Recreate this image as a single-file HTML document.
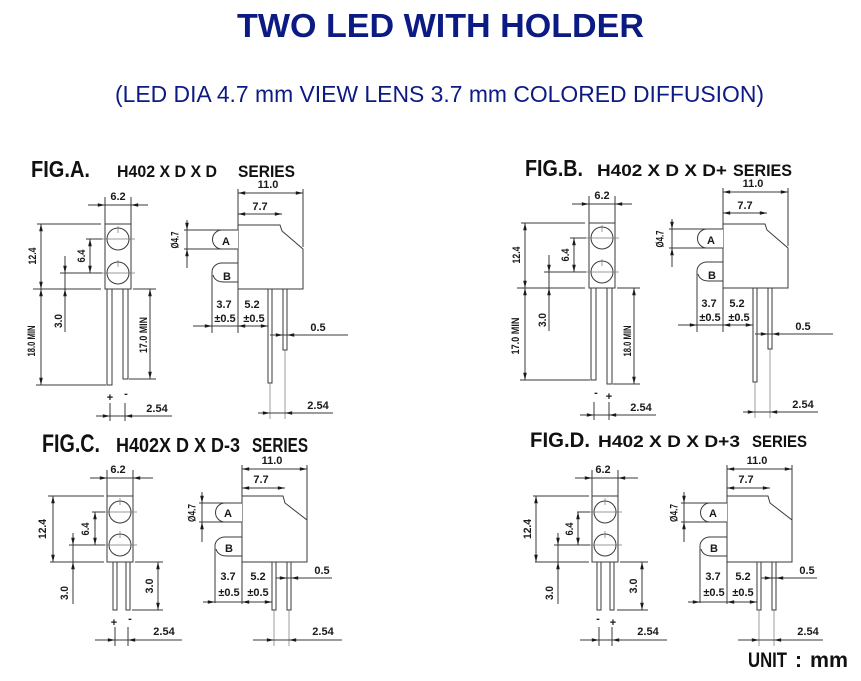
<!DOCTYPE html>
<html>
<head>
<meta charset="utf-8">
<style>
html,body{margin:0;padding:0;background:#fff;}
svg{display:block;}
.l{stroke:#3a3a3a;stroke-width:1;fill:none;}
.c{stroke:#777;stroke-width:0.7;fill:none;}
.s{stroke:#3a3a3a;stroke-width:1;fill:#fff;}
.a{marker-end:url(#m);}
.b{marker-start:url(#m);marker-end:url(#m);}
.t{font-size:11px;font-weight:bold;fill:#1a1a1a;text-anchor:middle;}
.h{font-weight:bold;fill:#111;}
</style>
</head>
<body>
<svg width="861" height="681" viewBox="0 0 861 681" font-family="'Liberation Sans', Arial, sans-serif">
<defs>
<marker id="m" viewBox="0 0 8 4" refX="8" refY="2" markerWidth="8" markerHeight="3.6" markerUnits="userSpaceOnUse" orient="auto-start-reverse"><path d="M0,0L8,2L0,4z" fill="#1a1a1a"/></marker>
</defs>

<!-- Titles -->
<text x="237" y="37" font-size="33" font-weight="bold" fill="#0c1a84" textLength="407" lengthAdjust="spacingAndGlyphs">TWO LED WITH HOLDER</text>
<text x="115" y="102" font-size="23" fill="#0c1a84" textLength="649" lengthAdjust="spacingAndGlyphs">(LED DIA 4.7 mm VIEW LENS 3.7 mm COLORED DIFFUSION)</text>

<!-- Headings -->
<text class="h" x="31" y="177" font-size="23" textLength="59" lengthAdjust="spacingAndGlyphs">FIG.A.</text>
<text class="h" x="117" y="177" font-size="17" textLength="100" lengthAdjust="spacingAndGlyphs">H402 X D X D</text>
<text class="h" x="238" y="177" font-size="17" textLength="57" lengthAdjust="spacingAndGlyphs">SERIES</text>

<text class="h" x="525" y="176" font-size="23" textLength="58" lengthAdjust="spacingAndGlyphs">FIG.B.</text>
<text class="h" x="597" y="176" font-size="17" textLength="130" lengthAdjust="spacingAndGlyphs">H402 X D X D+</text>
<text class="h" x="733" y="176" font-size="17" textLength="59" lengthAdjust="spacingAndGlyphs">SERIES</text>

<text class="h" x="42" y="452" font-size="25" textLength="58" lengthAdjust="spacingAndGlyphs">FIG.C.</text>
<text class="h" x="116" y="452" font-size="20" textLength="124" lengthAdjust="spacingAndGlyphs">H402X D X D-3</text>
<text class="h" x="252" y="452" font-size="20" textLength="56" lengthAdjust="spacingAndGlyphs">SERIES</text>

<text class="h" x="530" y="447" font-size="21" textLength="60" lengthAdjust="spacingAndGlyphs">FIG.D.</text>
<text class="h" x="598" y="447" font-size="17" textLength="142" lengthAdjust="spacingAndGlyphs">H402 X D X D+3</text>
<text class="h" x="752" y="447" font-size="17" textLength="55" lengthAdjust="spacingAndGlyphs">SERIES</text>

<text class="h" x="748" y="667" font-size="21" textLength="39" lengthAdjust="spacingAndGlyphs">UNIT</text>
<text class="h" x="795" y="667" font-size="21">:</text>
<text class="h" x="810" y="667" font-size="21" textLength="38" lengthAdjust="spacingAndGlyphs">mm</text>

<!-- ================= FIG A FRONT ================= -->
<g>
 <path class="l" d="M105,197V224M131,197V224M88,205H148"/>
 <path class="l a" d="M93,205H105"/><path class="l a" d="M143,205H131"/>
 <text class="t" x="118" y="200">6.2</text>
 <rect class="s" x="105" y="224" width="26" height="65"/>
 <circle class="s" cx="118" cy="239" r="11"/><circle class="s" cx="118" cy="273" r="11"/>
 <path class="c" d="M101,239H135M101,273H135M118,226V233M118,260V267"/>
 <rect class="s" x="107" y="289" width="5" height="96"/>
 <rect class="s" x="123" y="289" width="5" height="90"/>
 <path class="l" d="M37,224H101M33,289H101M36,385H106M86,239H102M60,273H102M65,256V332M133,289H156M129,379H156"/>
 <path class="l b" d="M41,224V289"/>
 <path class="l b" d="M41,289V385"/>
 <path class="l b" d="M90,239V273"/>
 <path class="l a" d="M65,260V273"/><path class="l a" d="M65,302V289"/>
 <path class="l b" d="M150,289V379"/>
 <text class="t" transform="translate(32,256) rotate(-90)" dy="4" textLength="17" lengthAdjust="spacingAndGlyphs">12.4</text>
 <text class="t" transform="translate(81,256) rotate(-90)" dy="4" textLength="13" lengthAdjust="spacingAndGlyphs">6.4</text>
 <text class="t" transform="translate(58,321) rotate(-90)" dy="4" textLength="14" lengthAdjust="spacingAndGlyphs">3.0</text>
 <text class="t" transform="translate(31,341) rotate(-90)" dy="4" textLength="31" lengthAdjust="spacingAndGlyphs">18.0 MIN</text>
 <text class="t" transform="translate(143,335) rotate(-90)" dy="4" textLength="36" lengthAdjust="spacingAndGlyphs">17.0 MIN</text>
 <text class="t" x="110" y="401" font-size="14">+</text>
 <text class="t" x="126" y="397" font-size="12">-</text>
 <path class="l" d="M110,403V421M125,403V421M96,416H172"/>
 <path class="l a" d="M98,416H110"/><path class="l a" d="M137,416H125"/>
 <text class="t" x="157" y="412">2.54</text>
</g>

<!-- ================= FIG A SIDE ================= -->
<g>
 <path class="l" d="M238,189V225M303,189V247"/>
 <path class="l b" d="M238,193H303"/>
 <text class="t" x="268" y="188">11.0</text>
 <path class="l b" d="M238,214H282"/>
 <text class="t" x="260" y="210">7.7</text>
 <path class="s" d="M238,225H280L282,231L303,249V289H238Z"/>
 <path class="l" d="M184,230H238M184,249H238"/>
 <path class="s" d="M238,230H222A9.5,9.5 0 0 0 222,249H238"/>
 <path class="l" d="M187,220V268"/>
 <path class="l a" d="M187,221V230"/><path class="l a" d="M187,259V249"/>
 <text class="t" transform="translate(175,240) rotate(-90)" dy="3.5" font-size="10" textLength="17" lengthAdjust="spacingAndGlyphs">Ø4.7</text>
 <text class="t" x="226" y="245" font-size="13">A</text>
 <path class="l" d="M238,263H222A10,9 0 0 0 212,272V333M213,275Q215,282 224,282H238"/>
 <text class="t" x="227" y="280" font-size="13">B</text>
 <path class="l" d="M238,289V333"/>
 <text class="t" x="224" y="308">3.7</text>
 <text class="t" x="225" y="322">±0.5</text>
 <text class="t" x="252" y="308">5.2</text>
 <text class="t" x="254" y="322">±0.5</text>
 <path class="l" d="M193,326H270"/>
 <path class="l a" d="M197,326H212"/>
 <path class="l b" d="M238,326H268"/>
 <rect class="s" x="268" y="289" width="4" height="94"/>
 <rect class="s" x="283" y="289" width="4" height="61"/>
 <path class="c" d="M270,383V419M285,350V419"/>
 <path class="l" d="M270,335H348"/>
 <path class="l a" d="M274,335H283"/><path class="l a" d="M297,335H287"/>
 <text class="t" x="318" y="331">0.5</text>
 <path class="l" d="M258,413H333"/>
 <path class="l a" d="M259,413H270"/><path class="l a" d="M297,413H285"/>
 <text class="t" x="318" y="409">2.54</text>
</g>

<!-- ================= FIG B FRONT ================= -->
<g transform="translate(484,-1)">
 <path class="l" d="M105,197V224M131,197V224M88,205H148"/>
 <path class="l a" d="M93,205H105"/><path class="l a" d="M143,205H131"/>
 <text class="t" x="118" y="200">6.2</text>
 <rect class="s" x="105" y="224" width="26" height="65"/>
 <circle class="s" cx="118" cy="239" r="11"/><circle class="s" cx="118" cy="273" r="11"/>
 <path class="c" d="M101,239H135M101,273H135M118,226V233M118,260V267"/>
 <rect class="s" x="107" y="289" width="5" height="92"/>
 <rect class="s" x="123" y="289" width="5" height="96"/>
 <path class="l" d="M37,224H101M33,289H101M36,381H106M86,239H102M60,273H102M65,256V332M133,289H156M129,385H156"/>
 <path class="l b" d="M41,224V289"/>
 <path class="l b" d="M41,289V381"/>
 <path class="l b" d="M90,239V273"/>
 <path class="l a" d="M65,260V273"/><path class="l a" d="M65,302V289"/>
 <path class="l b" d="M150,289V385"/>
 <text class="t" transform="translate(32,256) rotate(-90)" dy="4" textLength="17" lengthAdjust="spacingAndGlyphs">12.4</text>
 <text class="t" transform="translate(81,256) rotate(-90)" dy="4" textLength="13" lengthAdjust="spacingAndGlyphs">6.4</text>
 <text class="t" transform="translate(58,321) rotate(-90)" dy="4" textLength="14" lengthAdjust="spacingAndGlyphs">3.0</text>
 <text class="t" transform="translate(31,337) rotate(-90)" dy="4" textLength="37" lengthAdjust="spacingAndGlyphs">17.0 MIN</text>
 <text class="t" transform="translate(143,342) rotate(-90)" dy="4" textLength="31" lengthAdjust="spacingAndGlyphs">18.0 MIN</text>
 <text class="t" x="112" y="397" font-size="12">-</text>
 <text class="t" x="125" y="401" font-size="14">+</text>
 <path class="l" d="M110,403V421M125,403V421M96,416H172"/>
 <path class="l a" d="M98,416H110"/><path class="l a" d="M137,416H125"/>
 <text class="t" x="157" y="412">2.54</text>
</g>

<!-- ================= FIG B SIDE ================= -->
<g transform="translate(485,-1)">
 <path class="l" d="M238,189V225M303,189V247"/>
 <path class="l b" d="M238,193H303"/>
 <text class="t" x="268" y="188">11.0</text>
 <path class="l b" d="M238,214H282"/>
 <text class="t" x="260" y="210">7.7</text>
 <path class="s" d="M238,225H280L282,231L303,249V289H238Z"/>
 <path class="l" d="M184,230H238M184,249H238"/>
 <path class="s" d="M238,230H222A9.5,9.5 0 0 0 222,249H238"/>
 <path class="l" d="M187,220V268"/>
 <path class="l a" d="M187,221V230"/><path class="l a" d="M187,259V249"/>
 <text class="t" transform="translate(175,240) rotate(-90)" dy="3.5" font-size="10" textLength="17" lengthAdjust="spacingAndGlyphs">Ø4.7</text>
 <text class="t" x="226" y="245" font-size="13">A</text>
 <path class="l" d="M238,263H222A10,9 0 0 0 212,272V333M213,275Q215,282 224,282H238"/>
 <text class="t" x="227" y="280" font-size="13">B</text>
 <path class="l" d="M238,289V333"/>
 <text class="t" x="224" y="308">3.7</text>
 <text class="t" x="225" y="322">±0.5</text>
 <text class="t" x="252" y="308">5.2</text>
 <text class="t" x="254" y="322">±0.5</text>
 <path class="l" d="M193,326H270"/>
 <path class="l a" d="M197,326H212"/>
 <path class="l b" d="M238,326H268"/>
 <rect class="s" x="268" y="289" width="4" height="94"/>
 <rect class="s" x="283" y="289" width="4" height="61"/>
 <path class="c" d="M270,383V419M285,350V419"/>
 <path class="l" d="M270,335H348"/>
 <path class="l a" d="M274,335H283"/><path class="l a" d="M297,335H287"/>
 <text class="t" x="318" y="331">0.5</text>
 <path class="l" d="M258,413H333"/>
 <path class="l a" d="M259,413H270"/><path class="l a" d="M297,413H285"/>
 <text class="t" x="318" y="409">2.54</text>
</g>

<!-- ================= FIG C FRONT ================= -->
<g>
 <path class="l" d="M107,470V496M133,470V496M90,478H153"/>
 <path class="l a" d="M95,478H107"/><path class="l a" d="M146,478H133"/>
 <text class="t" x="118" y="473">6.2</text>
 <rect class="s" x="107" y="496" width="26" height="66"/>
 <circle class="s" cx="120" cy="512" r="11"/><circle class="s" cx="120" cy="545" r="11"/>
 <path class="c" d="M103,512H137M103,545H137M120,498V505M120,531V538"/>
 <rect class="s" x="113" y="562" width="4" height="48"/>
 <rect class="s" x="126" y="562" width="4" height="48"/>
 <path class="l" d="M48,496H104M50,562H104M92,512H105M69,545H105M73,533V604M135,562H163M132,610H163"/>
 <path class="l b" d="M53,496V562"/>
 <path class="l b" d="M95,512V545"/>
 <path class="l a" d="M73,535V545"/><path class="l a" d="M73,575V562"/>
 <path class="l b" d="M158,562V610"/>
 <text class="t" transform="translate(42,529) rotate(-90)" dy="4" textLength="20" lengthAdjust="spacingAndGlyphs">12.4</text>
 <text class="t" transform="translate(85,529) rotate(-90)" dy="4" textLength="13" lengthAdjust="spacingAndGlyphs">6.4</text>
 <text class="t" transform="translate(64,593) rotate(-90)" dy="4" textLength="14" lengthAdjust="spacingAndGlyphs">3.0</text>
 <text class="t" transform="translate(149,586) rotate(-90)" dy="4" textLength="15" lengthAdjust="spacingAndGlyphs">3.0</text>
 <text class="t" x="114" y="626" font-size="14">+</text>
 <text class="t" x="130" y="622" font-size="12">-</text>
 <path class="l" d="M115,627V646M128,627V646M95,640H182"/>
 <path class="l a" d="M101,640H115"/><path class="l a" d="M142,640H128"/>
 <text class="t" x="164" y="635">2.54</text>
</g>

<!-- ================= FIG C SIDE ================= -->
<g>
 <path class="l" d="M242,465V496M307,465V520"/>
 <path class="l b" d="M242,469H307"/>
 <text class="t" x="272" y="464">11.0</text>
 <path class="l b" d="M242,488H285"/>
 <text class="t" x="261" y="483">7.7</text>
 <path class="s" d="M242,496H283L285,503L307,520V562H242Z"/>
 <path class="l" d="M199,503H242M199,522H242"/>
 <path class="s" d="M242,503H225A9.5,9.5 0 0 0 225,522H242"/>
 <path class="l" d="M202,492V542"/>
 <path class="l a" d="M202,493V503"/><path class="l a" d="M202,532V522"/>
 <text class="t" transform="translate(192,513) rotate(-90)" dy="3.5" font-size="10" textLength="18" lengthAdjust="spacingAndGlyphs">Ø4.7</text>
 <text class="t" x="228" y="517" font-size="13">A</text>
 <path class="l" d="M242,537H225A10,9 0 0 0 215,546V603M216,549Q218,556 227,556H242"/>
 <text class="t" x="229" y="552" font-size="13">B</text>
 <path class="l" d="M242,562V604"/>
 <text class="t" x="228" y="580">3.7</text>
 <text class="t" x="229" y="596">±0.5</text>
 <text class="t" x="258" y="580">5.2</text>
 <text class="t" x="258" y="596">±0.5</text>
 <path class="l" d="M203,602H276"/>
 <path class="l a" d="M204,602H215"/>
 <path class="l b" d="M242,602H272"/>
 <rect class="s" x="272" y="562" width="4" height="48"/>
 <rect class="s" x="287" y="562" width="4" height="48"/>
 <path class="c" d="M274,610V646M289,610V646"/>
 <path class="l" d="M276,578H332"/>
 <path class="l a" d="M278,578H287"/><path class="l a" d="M301,578H291"/>
 <text class="t" x="322" y="574">0.5</text>
 <path class="l" d="M253,640H342"/>
 <path class="l a" d="M260,640H274"/><path class="l a" d="M303,640H289"/>
 <text class="t" x="323" y="635">2.54</text>
</g>

<!-- ================= FIG D FRONT ================= -->
<g transform="translate(485,0)">
 <path class="l" d="M107,470V496M133,470V496M90,478H153"/>
 <path class="l a" d="M95,478H107"/><path class="l a" d="M146,478H133"/>
 <text class="t" x="118" y="473">6.2</text>
 <rect class="s" x="107" y="496" width="26" height="66"/>
 <circle class="s" cx="120" cy="512" r="11"/><circle class="s" cx="120" cy="545" r="11"/>
 <path class="c" d="M103,512H137M103,545H137M120,498V505M120,531V538"/>
 <rect class="s" x="112" y="562" width="4" height="48"/>
 <rect class="s" x="125" y="562" width="4" height="48"/>
 <path class="l" d="M48,496H104M50,562H104M92,512H105M69,545H105M73,533V604M135,562H163M132,610H163"/>
 <path class="l b" d="M51,496V562"/>
 <path class="l b" d="M93,512V545"/>
 <path class="l a" d="M73,535V545"/><path class="l a" d="M73,575V562"/>
 <path class="l b" d="M157,562V610"/>
 <text class="t" transform="translate(42,529) rotate(-90)" dy="4" textLength="20" lengthAdjust="spacingAndGlyphs">12.4</text>
 <text class="t" transform="translate(84,529) rotate(-90)" dy="4" textLength="13" lengthAdjust="spacingAndGlyphs">6.4</text>
 <text class="t" transform="translate(64,593) rotate(-90)" dy="4" textLength="14" lengthAdjust="spacingAndGlyphs">3.0</text>
 <text class="t" transform="translate(148,586) rotate(-90)" dy="4" textLength="15" lengthAdjust="spacingAndGlyphs">3.0</text>
 <text class="t" x="113" y="622" font-size="12">-</text>
 <text class="t" x="128" y="626" font-size="14">+</text>
 <path class="l" d="M114,627V646M127,627V646M95,640H182"/>
 <path class="l a" d="M100,640H114"/><path class="l a" d="M141,640H127"/>
 <text class="t" x="163" y="635">2.54</text>
</g>

<!-- ================= FIG D SIDE ================= -->
<g transform="translate(485,0)">
 <path class="l" d="M242,465V496M307,465V520"/>
 <path class="l b" d="M242,469H307"/>
 <text class="t" x="272" y="464">11.0</text>
 <path class="l b" d="M242,488H285"/>
 <text class="t" x="261" y="483">7.7</text>
 <path class="s" d="M242,496H283L285,503L307,520V562H242Z"/>
 <path class="l" d="M196,503H242M196,522H242"/>
 <path class="s" d="M242,503H225A9.5,9.5 0 0 0 225,522H242"/>
 <path class="l" d="M199,492V542"/>
 <path class="l a" d="M199,493V503"/><path class="l a" d="M199,532V522"/>
 <text class="t" transform="translate(189,513) rotate(-90)" dy="3.5" font-size="10" textLength="18" lengthAdjust="spacingAndGlyphs">Ø4.7</text>
 <text class="t" x="228" y="517" font-size="13">A</text>
 <path class="l" d="M242,537H225A10,9 0 0 0 215,546V603M216,549Q218,556 227,556H242"/>
 <text class="t" x="229" y="552" font-size="13">B</text>
 <path class="l" d="M242,562V604"/>
 <text class="t" x="228" y="580">3.7</text>
 <text class="t" x="229" y="596">±0.5</text>
 <text class="t" x="258" y="580">5.2</text>
 <text class="t" x="258" y="596">±0.5</text>
 <path class="l" d="M203,602H276"/>
 <path class="l a" d="M204,602H215"/>
 <path class="l b" d="M242,602H272"/>
 <rect class="s" x="272" y="562" width="4" height="48"/>
 <rect class="s" x="287" y="562" width="4" height="48"/>
 <path class="c" d="M274,610V646M289,610V646"/>
 <path class="l" d="M276,578H332"/>
 <path class="l a" d="M278,578H287"/><path class="l a" d="M301,578H291"/>
 <text class="t" x="322" y="574">0.5</text>
 <path class="l" d="M253,640H338"/>
 <path class="l a" d="M260,640H274"/><path class="l a" d="M303,640H289"/>
 <text class="t" x="323" y="635">2.54</text>
</g>
</svg>
</body>
</html>
